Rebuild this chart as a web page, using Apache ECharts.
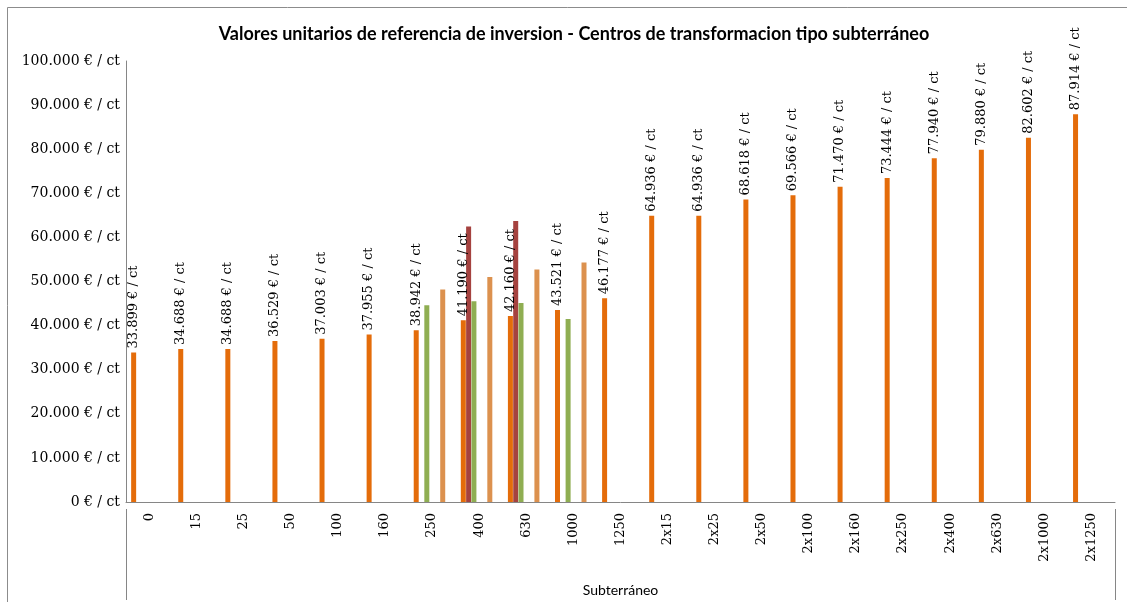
<!DOCTYPE html>
<html>
<head>
<meta charset="utf-8">
<title>Valores unitarios de referencia de inversion</title>
<script src="https://cdn.jsdelivr.net/npm/echarts@6/dist/echarts.min.js"></script>
<style>
    html, body { margin: 0; padding: 0; background: #fff; }
    #chart { width: 1127px; height: 602px; }
</style>
</head>
<body>
<div id="chart"></div>
<script>
    // categorias (potencia del centro)
    const categorias = ['0', '15', '25', '50', '100', '160', '250', '400', '630', '1000', '1250',
        '2x15', '2x25', '2x50', '2x100', '2x160', '2x250', '2x400', '2x630', '2x1000', '2x1250'];
    // serie principal con etiquetas
    const valoresSubterraneo = [33899, 34688, 34688, 36529, 37003, 37955, 38942, 41190, 42160, 43521, 46177,
        64936, 64936, 68618, 69566, 71470, 73444, 77940, 79880, 82602, 87914];
    // series secundarias (solo algunas potencias)
    const valoresRojo = [null, null, null, null, null, null, null, 62500, 63700, null, null,
        null, null, null, null, null, null, null, null, null, null];
    const valoresVerde = [null, null, null, null, null, null, 44600, 45500, 45100, 41500, null,
        null, null, null, null, null, null, null, null, null, null];
    const valoresVacio = categorias.map(() => null);
    const valoresCanela = [null, null, null, null, null, null, 48200, 51000, 52700, 54300, null,
        null, null, null, null, null, null, null, null, null, null];
    const ticksY = { min: 0, max: 100000, interval: 10000 };

    const GRID_LEFT = 126, GRID_RIGHT = 12, GRID_TOP = 61, GRID_BOTTOM = 93;
    const W = 1127, H = 602;

    function euros(v) {
        return String(v).replace(/\B(?=(\d{3})+(?!\d))/g, '.') + ' € / ct';
    }

    const chart = echarts.init(document.getElementById('chart'));

    function barra(nombre, datos, color, etiqueta) {
        return {
            name: nombre,
            type: 'bar',
            data: datos,
            barWidth: 5,
            barGap: '6%',
            itemStyle: { color: color },
            label: etiqueta ? {
                show: true,
                position: 'top',
                rotate: 90,
                align: 'left',
                verticalAlign: 'middle',
                distance: 4,
                fontFamily: 'DejaVu Serif',
                fontSize: 13,
                color: '#000',
                formatter: p => euros(p.value)
            } : { show: false }
        };
    }

    const option = {
        animation: false,
        backgroundColor: '#fff',
        title: {
            text: 'Valores unitarios de referencia de inversion - Centros de transformacion tipo subterráneo',
            left: 569,
            textAlign: 'center',
            top: 20,
            textStyle: { fontFamily: 'Lato', fontSize: 18, fontWeight: 'bold', color: '#000' }
        },
        grid: { left: GRID_LEFT, right: GRID_RIGHT, top: GRID_TOP, bottom: GRID_BOTTOM, containLabel: false },
        xAxis: {
            type: 'category',
            data: categorias,
            name: 'Subterráneo',
            nameLocation: 'middle',
            nameGap: 81,
            nameTextStyle: { fontFamily: 'Lato', fontSize: 14, color: '#000' },
            axisLine: { lineStyle: { color: '#868686' } },
            axisTick: { show: false },
            axisLabel: {
                interval: 0,
                rotate: 90,
                margin: 11,
                fontFamily: 'DejaVu Serif',
                fontSize: 13,
                color: '#000'
            }
        },
        yAxis: {
            type: 'value',
            min: ticksY.min,
            max: ticksY.max,
            interval: ticksY.interval,
            axisLine: { show: true, lineStyle: { color: '#868686' } },
            axisTick: { show: false },
            splitLine: { show: false },
            axisLabel: {
                margin: 6,
                fontFamily: 'DejaVu Serif',
                fontSize: 14,
                color: '#000',
                formatter: v => euros(v)
            }
        },
        graphic: [
            {
                type: 'rect', silent: true, z: -1,
                shape: { x: 7.5, y: 7.5, width: W + 20, height: H + 20 },
                style: { fill: 'none', stroke: '#8c8c8c', lineWidth: 1 }
            },
            {
                type: 'line', silent: true,
                shape: { x1: GRID_LEFT + 0.5, y1: H - GRID_BOTTOM, x2: GRID_LEFT + 0.5, y2: H - 2 },
                style: { stroke: '#868686', lineWidth: 1 }
            },
            {
                type: 'line', silent: true,
                shape: { x1: W - GRID_RIGHT + 0.5, y1: H - GRID_BOTTOM, x2: W - GRID_RIGHT + 0.5, y2: H - 2 },
                style: { stroke: '#868686', lineWidth: 1 }
            }
        ],
        series: [
            barra('Subterráneo', valoresSubterraneo, '#e46c0a', true),
            barra('Serie 2', valoresRojo, '#a5423f', false),
            barra('Serie 3', valoresVerde, '#8fae52', false),
            barra('Serie 4', valoresVacio, '#4f81bd', false),
            barra('Serie 5', valoresVacio, '#8064a2', false),
            barra('Serie 6', valoresCanela, '#dc914e', false),
            barra('Serie 7', valoresVacio, '#4bacc6', false)
        ]
    };
    chart.setOption(option);
</script>
</body>
</html>
